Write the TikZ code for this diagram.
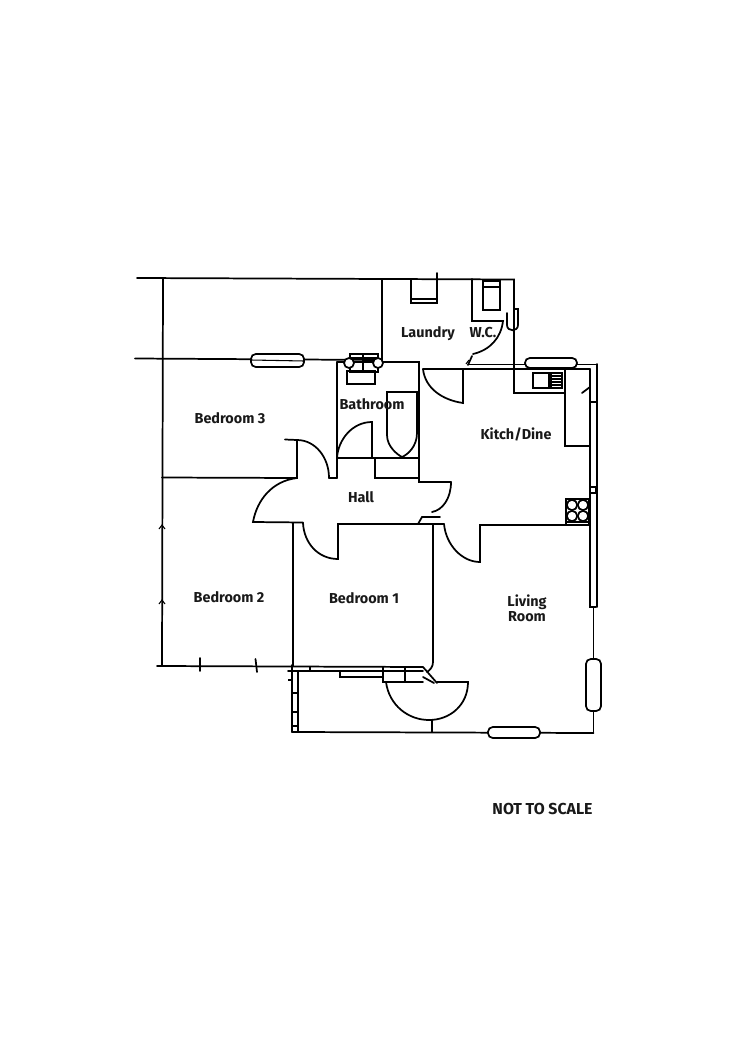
\documentclass[tikz,border=0pt]{standalone}
\usepackage{fontspec}
\setmainfont{Fira Sans}
\begin{document}
\begin{tikzpicture}[x=0.75pt,y=-0.75pt,
  wall/.style={draw=black,line width=1.3pt,line cap=round,line join=miter},
  thin wall/.style={draw=black,line width=0.8pt},
  fixture/.style={draw=black,line width=0.9pt},
  win/.style={draw=black,fill=white,line width=1.3pt,rounded corners=3.6pt},
  label/.style={font=\fontsize{10.8}{11.3}\selectfont\bfseries,inner sep=0pt,align=center,text=black!90}]
\useasboundingbox (0,0) rectangle (750,1059);
\fill[white] (0,0) rectangle (750,1059);
% outer and main walls
\draw[wall] (137,278) -- (514,279.5) -- (514,393) -- (565,393);
\draw[wall] (163,279) -- (162,666);
\draw[wall] (135,358.5) -- (382,360);
\draw[wall] (382,279) -- (382,360);
\draw[wall] (337,362) -- (337,478);
\draw[wall] (337,362) -- (419,362) -- (419,482) -- (451,482);
\draw[wall] (162,477.5) -- (297,478) -- (297,440) -- (285,439.5);
\draw[wall] (329,478) -- (337,478);
\draw[wall] (329,478) .. controls (329,457) and (315,440) .. (297,440);
\draw[wall] (297,478) .. controls (272,481) and (257,500) .. (253,522) -- (303,522.5);
\draw[wall] (293,523) -- (293,666);
\draw[wall] (303,523) .. controls (304,543) and (318,559) .. (338,559) -- (338,524) -- (418,524) ;
\draw[wall] (418,524) -- (444,524);
\draw[wall] (444,524) .. controls (446,545) and (462,562) .. (480,562) -- (480,525) -- (590,525);
\draw[wall] (433,524) -- (433,662) .. controls (433,667) and (430,670) .. (427,672);
\draw[wall] (337,458) -- (419,458);
\draw[wall] (375,458) -- (375,478) -- (419,478);
\draw[wall] (372,458) -- (372,422) .. controls (352,422) and (338,440) .. (337,458);
\draw[wall] (451,482) .. controls (451,498) and (443,510) .. (432,512);
\draw[wall] (418,524) -- (422,517) -- (440,517);
% laundry and W.C.
\draw[wall] (411,279) -- (411,303) -- (437,303) -- (437,273);
\draw[thin wall] (411,299) -- (437,299);
\draw[wall] (472,279) -- (472,321) -- (503,321) .. controls (501,338) and (490,350) .. (473,354);
\draw[fixture] (483,281) rectangle (500,310);
\draw[fixture] (483,287) -- (500,287);
\draw[wall] (507,313) -- (507,325) .. controls (507,332) and (518,332) .. (518,325) -- (518,309) -- (514,309);
\draw[wall] (468,364.5) -- (597,364.5);
\draw[wall] (468,365) -- (472,356);
\draw[thin wall] (466,364) -- (469,360);
% kitchen
\draw[wall] (423,369) -- (590,369);
\draw[wall] (463,369) -- (463,403) .. controls (442,400) and (425,388) .. (423,369);
\draw[wall] (565,369) -- (565,393);
\draw[wall] (565,393) -- (565,446) -- (590,446);
\draw[wall] (582,393) -- (590,387);
\draw[fixture] (533,373) rectangle (549,388);
\draw[fixture] (551,373) rectangle (562,388);
\foreach \h in {376,379,382,385} \draw[fixture] (551,\h) -- (562,\h);
\draw[wall] (590,369) -- (590,607) -- (596,607);
\draw[wall] (597,364) -- (597,607);
\draw[thin wall] (590,402) -- (596,402);
\draw[thin wall] (590,487) rectangle (596,493);
% cooker
\draw[wall] (566,499) rectangle (589,525);
\draw[thin wall] (566,522) -- (589,522);
\foreach \cx/\cy in {572/505,583/505,572/516,583/516} \draw[wall] (\cx,\cy) circle (5.2);
% bathroom fixtures
\draw[fixture] (350,354) rectangle (378,372);
\draw[fixture] (350,358) -- (378,358);
\draw[fixture] (363,354) -- (363,371);
\draw[fixture] (347,371) rectangle (375,384);
\draw[wall,fill=white] (349,363) circle (5);
\draw[wall,fill=white] (378,363) circle (5);
\draw[wall] (387,392) -- (387,435) .. controls (387,447) and (398,455) .. (402,457) .. controls (407,455) and (417,447) .. (417,433) -- (417,392) -- cycle;
% living room and porch
\draw[wall] (593.5,607) -- (593.5,733);
\draw[wall] (292,732) -- (593.5,733);
\draw[wall] (292,665) -- (292,732);
\draw[wall] (298,671) -- (298,732);
\foreach \h in {693,712,726} \draw[thin wall] (292,\h) -- (298,\h);
\draw[thin wall] (288,680) -- (292,680);
\draw[wall] (157,666) -- (423,667) -- (437,683);
\draw[wall] (288,671) -- (423,671);
\draw[wall] (423,677) -- (434,683);
\draw[wall] (310,667) -- (310,671);
\draw[wall] (383,667) -- (383,682) -- (423,682);
\draw[wall] (405,667) -- (405,682);
\draw[wall] (340,672) -- (340,677) -- (383,677);
\draw[wall] (437,682) -- (468,682) .. controls (468,705) and (450,720) .. (429,720) .. controls (408,720) and (389,705) .. (386,682);
\draw[thin wall] (432,720) -- (432,732);
% ticks on party walls
\draw[wall] (200,658) -- (200,671);
\draw[wall] (255.5,659) -- (257,672);
\draw[thin wall] (159,529) -- (162,525) -- (165,529);
\draw[thin wall] (159,604) -- (162,600) -- (165,604);
% windows
\draw[win] (251,354) rectangle (304,367);
\draw[thin wall] (251,360) -- (304,361);
\draw[win] (525,358) rectangle (577,368);
\draw[win] (586,659) rectangle (601,711);
\draw[win] (488,727) rectangle (540,738);
% labels
\node[label] (laundry) at (428,333.5) {Laundry};
\node[label] (wc) at (483,332.5) {W.C.};
\node[label] (bath) at (372,404) {Bathroom};
\node[label] (kitch) at (516,434.5) {Kitch/Dine};
\node[label] (bed3) at (230,418) {Bedroom 3};
\node[label] (hall) at (361,497) {Hall};
\node[label] (bed2) at (229,597) {Bedroom 2};
\node[label] (bed1) at (364,598) {Bedroom 1};
\node[label] (living) at (527,608) {Living\\Room};
\node[label,font=\fontsize{11.9}{13}\selectfont\bfseries] (nts) at (542.5,809) {NOT TO SCALE};
\end{tikzpicture}
\end{document}
